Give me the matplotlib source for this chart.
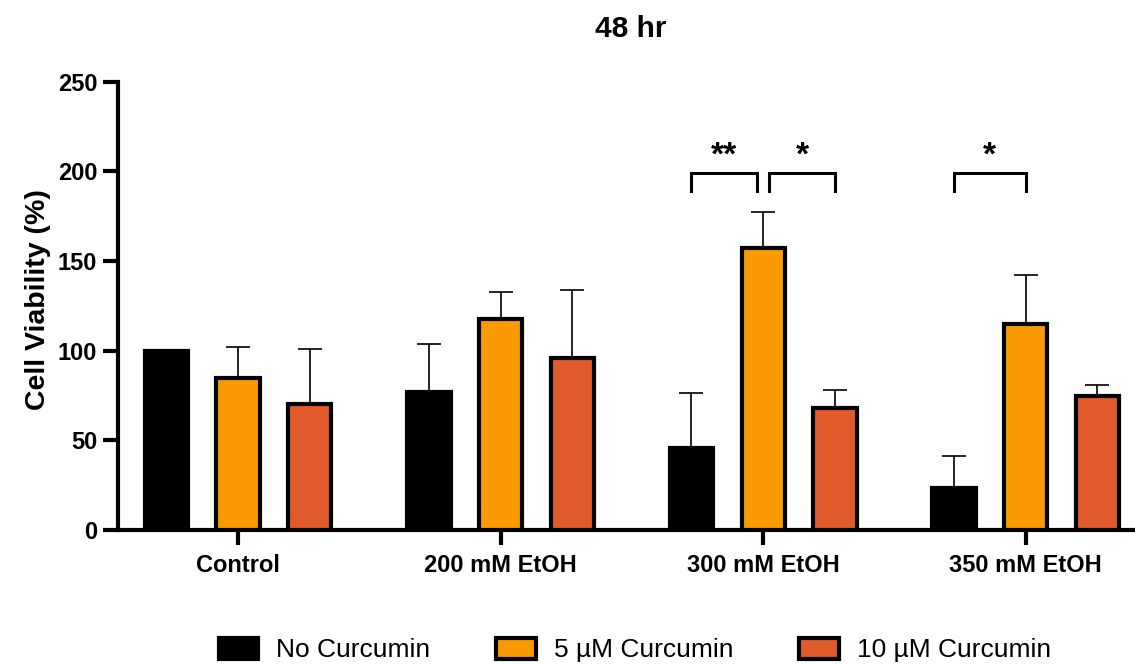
import matplotlib
matplotlib.use("Agg")
import matplotlib.pyplot as plt
import numpy as np

plt.rcParams['font.family'] = ['Liberation Sans', 'DejaVu Sans']

# data
groups = ['Control', '200 mM EtOH', '300 mM EtOH', '350 mM EtOH']
series = ['No Curcumin', '5 µM Curcumin', '10 µM Curcumin']
colors = ['#000000', '#F99B00', '#E05A2C']
means = [
    [100.0, 77.0, 45.9, 23.4],    # no curcumin
    [84.8, 117.7, 157.3, 115.1],  # 5 uM
    [70.5, 95.8, 68.2, 74.6],     # 10 uM
]
errs = [
    [0.0, 26.6, 30.3, 18.0],
    [17.2, 14.9, 20.2, 27.1],
    [30.3, 37.9, 9.9, 6.1],
]
# significance: (group, bar a, bar b, label)
sig = [(2, 0, 1, '**'), (2, 1, 2, '*'), (3, 0, 1, '*')]

fig = plt.figure(figsize=(11.35, 6.64), dpi=100)
ax = fig.add_axes([118/1135, 1 - 530/664, 1 - 118/1135, 448.3/664])

step = 0.273
width = 0.165
xg = np.arange(len(groups))

for j in range(len(series)):
    xs = xg + (j - 1) * step
    ax.bar(xs, means[j], width=width, color=colors[j], edgecolor='black',
           linewidth=3, label=series[j], zorder=3)
    e = np.array(errs[j])
    m = np.array(means[j])
    keep = e > 0
    ax.errorbar(xs[keep], m[keep], yerr=[np.zeros(keep.sum()), e[keep]],
                fmt='none', ecolor='black', elinewidth=1.2, capsize=8.5,
                capthick=1.2, zorder=2)

# brackets
for g, a, b, lab in sig:
    x1 = g + (a - 1) * step
    x2 = g + (b - 1) * step
    if g == 2:
        if a == 0:
            x2 -= 0.023
        else:
            x1 += 0.023
    ax.plot([x1, x1, x2, x2], [189, 199, 199, 189], color='black', lw=2.2,
            solid_joinstyle='miter', clip_on=False, zorder=4)
    ax.text((x1 + x2) / 2, 204, lab, ha='center', va='baseline',
            fontsize=24, fontweight='bold')

ax.set_xlim(-0.457, 3.416)
ax.set_ylim(0, 250)
ax.set_yticks([0, 50, 100, 150, 200, 250])
ax.set_xticks(xg)
ax.set_xticklabels(groups)

for s in ['top', 'right']:
    ax.spines[s].set_visible(False)
for s in ['left', 'bottom']:
    ax.spines[s].set_linewidth(3)

ax.tick_params(axis='both', width=3, length=11, labelsize=17)
ax.tick_params(axis='y', pad=4)
ax.tick_params(axis='x', pad=6)
for t in ax.get_xticklabels() + ax.get_yticklabels():
    t.set_fontweight('bold')

ax.set_ylabel('Cell Viability (%)', fontsize=20.5, fontweight='bold')
ax.yaxis.set_label_coords(-0.066, 0.513)
fig.text(631/1135, 1 - 29/664, '48 hr', ha='center', va='center',
         fontsize=21.5, fontweight='bold')

fig.legend(loc='center', bbox_to_anchor=(635/1135, 1 - 650/664), ncol=3,
           frameon=False, handlelength=1.5, handleheight=0.87,
           handletextpad=0.68, columnspacing=2.5, fontsize=19)

fig.savefig('out.png', dpi=100)
